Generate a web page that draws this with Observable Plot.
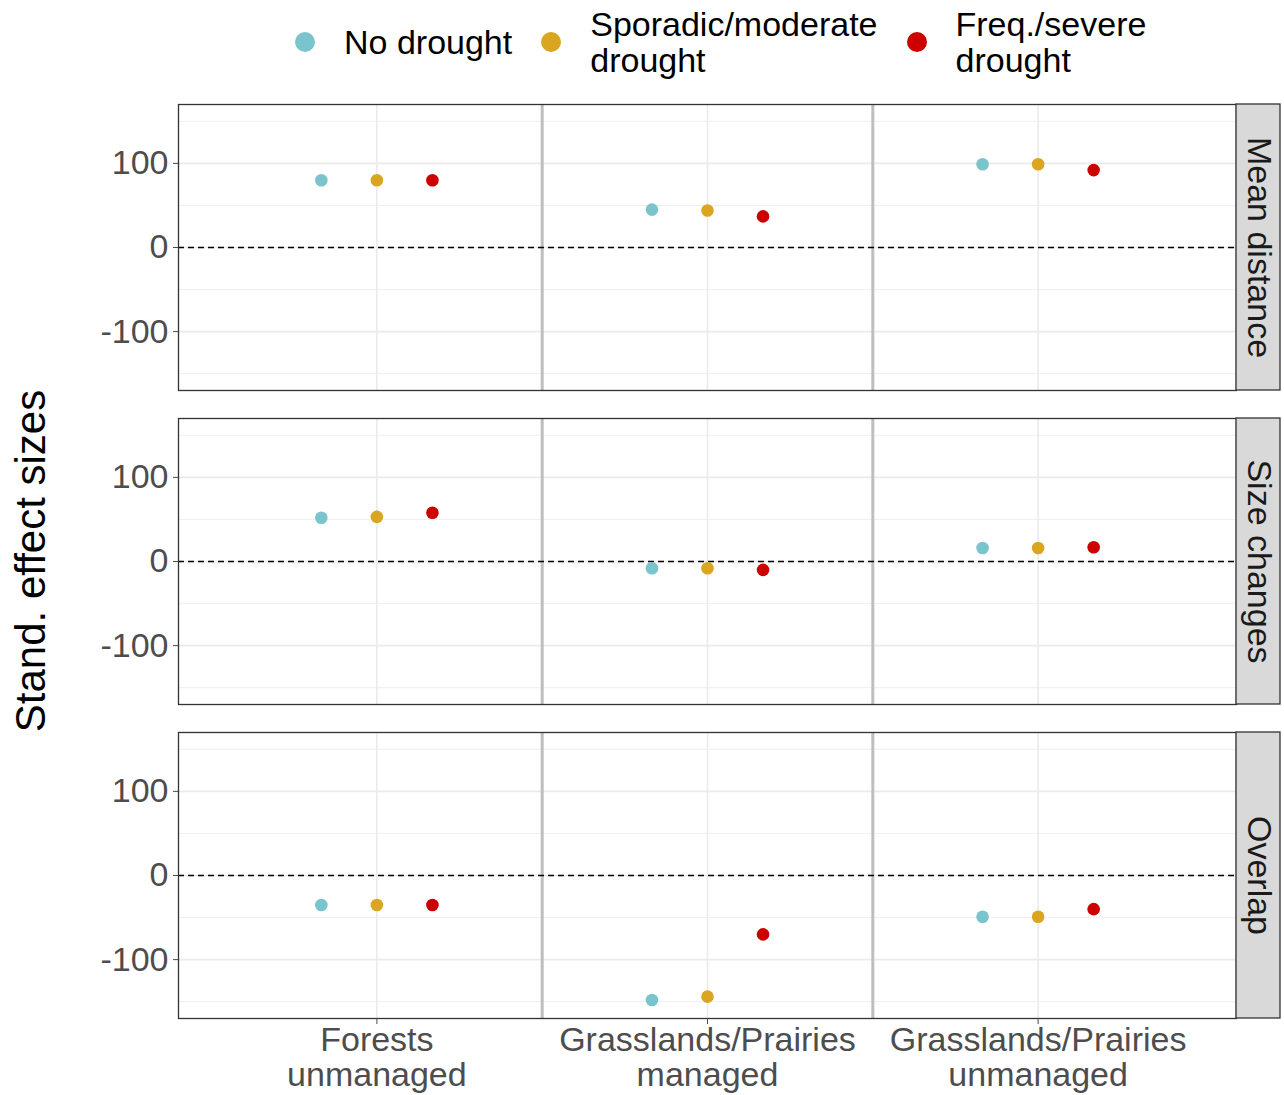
<!DOCTYPE html>
<html>
<head>
<meta charset="utf-8">
<script src="https://cdn.jsdelivr.net/npm/d3@7"></script>
<script src="https://cdn.jsdelivr.net/npm/@observablehq/plot@0.6"></script>
<style>
  html, body { margin: 0; padding: 0; background: #fff; }
  body { font-family: "Liberation Sans", Arial, sans-serif; }
  #wrap { position: relative; width: 1284px; height: 1095px; overflow: hidden; background: #fff; }
  #legend { position: absolute; left: 295px; top: 0; height: 84px; display: flex; align-items: center; font-size: 34px; color: #000; line-height: 36px; }
  .key { width: 20px; height: 20px; border-radius: 50%; flex: none; }
  .lab { margin-left: 29px; margin-right: 29px; }
  #ytitle { position: absolute; left: 31px; top: 561px; transform: translate(-50%, -50%) rotate(-90deg); font-size: 42px; color: #000; white-space: nowrap; }
  #chart { position: absolute; left: 0; top: 90px; }
</style>
</head>
<body>
<div id="wrap">
  <div id="legend"></div>
  <div id="ytitle">Stand. effect sizes</div>
  <div id="chart"></div>
</div>
<script>
// ---- data ----
const habitats = ["Forests\nunmanaged", "Grasslands/Prairies\nmanaged", "Grasslands/Prairies\nunmanaged"];
const metrics = ["Mean distance", "Size changes", "Overlap"];
const droughts = ["No drought", "Sporadic/moderate drought", "Freq./severe drought"];
const droughtLabels = ["No drought", "Sporadic/moderate<br>drought", "Freq./severe<br>drought"];
const colors = ["#7AC5CD", "#DAA520", "#CD0000"];
// values per habitat: [No drought, Sporadic/moderate, Freq./severe]
const meanDistance = [[80, 80, 80], [45, 44, 37], [99, 99, 92]];
const sizeChanges = [[52, 53, 58], [-8, -8, -10], [16, 16, 17]];
const overlap = [[-35, -35, -35], [-148, -144, -70], [-49, -49, -40]];
const yTicks = [-100, 0, 100];
const yMinor = [-150, -50, 50, 150];

const series = [meanDistance, sizeChanges, overlap];
const rows = [];
metrics.forEach((m, mi) => habitats.forEach((h, hi) => droughts.forEach((d, di) => {
  rows.push({ metric: m, hab: hi + 1, di, drought: d, value: series[mi][hi][di] });
})));

// ---- legend ----
const legend = document.getElementById("legend");
droughts.forEach((d, i) => {
  const k = document.createElement("div");
  k.className = "key"; k.style.background = colors[i];
  const l = document.createElement("div");
  l.className = "lab"; l.innerHTML = droughtLabels[i];
  legend.appendChild(k); legend.appendChild(l);
});

// ---- chart ----
const W = 1284, mL = 178, mR = 48, stripPx = 44;
const xDomain = [0.4, 3.6];
const yDomain = [-170, 170];
const pxPerUnit = (W - mL - mR) / (xDomain[1] - xDomain[0]);
const stripW = stripPx / pxPerUnit;
const dodge = 0.168;
const font = "Liberation Sans, Arial, sans-serif";

const chart = Plot.plot({
  width: W,
  height: 1005,
  marginLeft: mL,
  marginRight: mR,
  marginTop: 14,
  marginBottom: 77,
  style: { fontFamily: font, background: "transparent", overflow: "visible" },
  x: { domain: xDomain },
  y: { domain: yDomain },
  fy: { domain: metrics, paddingInner: 0.0892, paddingOuter: 0, axis: null },
  color: { domain: droughts, range: colors },
  marks: [
    Plot.gridY(yMinor, { stroke: "#EBEBEB", strokeOpacity: 1, strokeWidth: 0.8 }),
    Plot.gridY(yTicks, { stroke: "#EBEBEB", strokeOpacity: 1, strokeWidth: 1.6 }),
    Plot.gridX([1, 2, 3], { stroke: "#EBEBEB", strokeOpacity: 1, strokeWidth: 1.6 }),
    Plot.ruleX([1.5, 2.5], { stroke: "#BEBEBE", strokeWidth: 3 }),
    Plot.ruleY([0], { stroke: "#000", strokeWidth: 1.7, strokeDasharray: "6,4" }),
    Plot.dot(rows, {
      x: d => d.hab + (d.di - 1) * dodge,
      y: "value",
      fy: "metric",
      fill: "drought",
      r: 6.3
    }),
    Plot.frame({ stroke: "#333333", strokeWidth: 1.3 }),
    Plot.rect(metrics, {
      fy: d => d,
      x1: xDomain[1], x2: xDomain[1] + stripW,
      y1: yDomain[0], y2: yDomain[1],
      fill: "#D9D9D9", stroke: "#333333", strokeWidth: 1.3
    }),
    Plot.text(metrics, {
      fy: d => d,
      x: () => xDomain[1] + stripW / 2,
      y: () => 0,
      text: d => d,
      rotate: 90,
      fontSize: 34,
      fill: "#1A1A1A"
    }),
    Plot.axisY(yTicks, { tickSize: 5, tickPadding: 5, fontSize: 34, color: "#4D4D4D", label: null, tickFormat: d => String(d) }),
    Plot.axisX([1, 2, 3], {
      tickFormat: i => habitats[i - 1],
      tickSize: 6, tickPadding: 2, fontSize: 34, lineHeight: 1.03,
      color: "#4D4D4D", label: null
    })
  ]
});
document.getElementById("chart").appendChild(chart);
</script>
</body>
</html>
